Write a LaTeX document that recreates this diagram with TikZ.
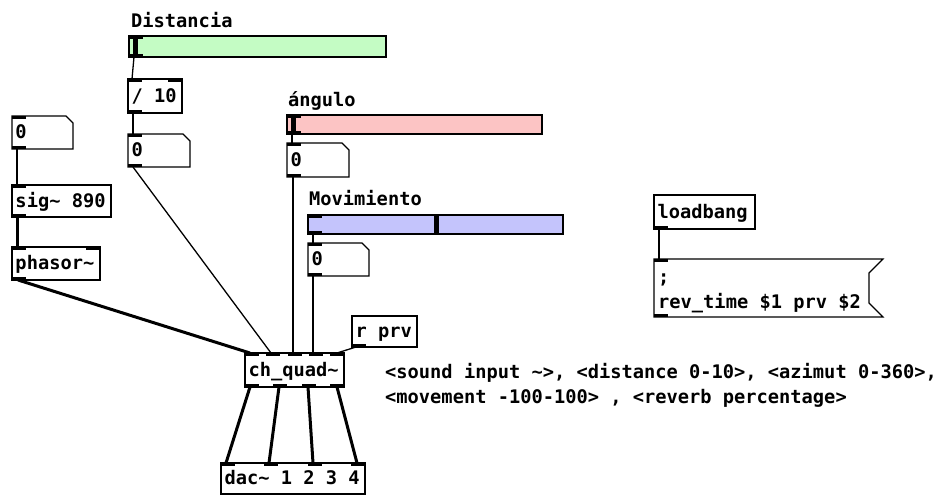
\documentclass[tikz,border=0pt]{standalone}
\usepackage{fontspec}
\newfontfamily\pdfont{DejaVu Sans Mono}
\definecolor{pdgreen}{HTML}{C4FCC4}
\definecolor{pdred}{HTML}{FCC4C4}
\definecolor{pdblue}{HTML}{C4C4FC}
\newcommand\inl[1]{\fill #1 rectangle ++(14,3);}
\newcommand\outl[1]{\fill #1 rectangle ++(14,-3);}
\newcommand\natsp{\spaceskip=0pt\xspaceskip=0pt\relax}
\begin{document}
\begin{tikzpicture}[x=1pt,y=-1pt,
  font=\pdfont\bfseries\fontsize{18.7}{25}\selectfont,
  boxline/.style={line width=1.1pt},
  obj/.style={draw, boxline, inner xsep=3.5pt, inner ysep=0pt, outer sep=0pt,
    anchor=north west, align=left, text height=15pt, text depth=3pt},
  frame/.style={inner sep=0pt, outer sep=0pt, anchor=north west},
  slider/.style={draw, boxline, inner sep=0pt, outer sep=0pt, anchor=north west},
  numtext/.style={frame, inner xsep=3.5pt, align=left, text height=15pt, text depth=3pt},
  lbl/.style={inner sep=0pt, anchor=base west},
  ctl/.style={line width=1.3pt},
  sig/.style={line width=3pt}]
\useasboundingbox (0,0) rectangle (952,496);

% ---- Distancia
\node[lbl] (lD) at (131,27) {Distancia};
\node[slider, fill=pdgreen, minimum width=257pt, minimum height=21pt] (sD) at (129,36) {};
\fill ([xshift=4pt]sD.north west) rectangle ++(5,21);
\inl{(sD.north west)} \outl{(sD.south west)}
\node[obj, text width=47pt, minimum height=34pt] (div) at (128,79) {\natsp / 10};
\inl{(div.north west)} \inl{([xshift=-14pt]div.north east)} \outl{(div.south west)}
\node[numtext, text width=55pt, minimum height=33pt] (nD) at (128,134) {0};
\draw[boxline] (nD.north west) -- ([xshift=-7pt]nD.north east) -- ([yshift=-7pt]nD.north east) -- (nD.south east) -- (nD.south west) -- cycle;
\inl{(nD.north west)} \outl{(nD.south west)}

% ---- left chain
\node[numtext, text width=54pt, minimum height=33pt] (n0) at (12,116) {0};
\draw[boxline] (n0.north west) -- ([xshift=-7pt]n0.north east) -- ([yshift=-7pt]n0.north east) -- (n0.south east) -- (n0.south west) -- cycle;
\inl{(n0.north west)} \outl{(n0.south west)}
\node[obj, text width=92pt, minimum height=32pt] (sg) at (12,185) {\natsp sig\textasciitilde{} 890};
\inl{(sg.north west)} \outl{(sg.south west)}
\node[obj, text width=81pt, minimum height=33pt] (ph) at (12,247) {phasor\textasciitilde};
\inl{(ph.north west)} \inl{([xshift=-14pt]ph.north east)} \outl{(ph.south west)}

% ---- angulo
\node[lbl] (lA) at (288,106) {ángulo};
\node[slider, fill=pdred, minimum width=255pt, minimum height=19pt] (sA) at (287,115) {};
\fill ([xshift=4pt]sA.north west) rectangle ++(5,19);
\inl{(sA.north west)} \outl{(sA.south west)}
\node[numtext, text width=55pt, minimum height=34pt] (nA) at (287,143) {0};
\draw[boxline] (nA.north west) -- ([xshift=-7pt]nA.north east) -- ([yshift=-7pt]nA.north east) -- (nA.south east) -- (nA.south west) -- cycle;
\inl{(nA.north west)} \outl{(nA.south west)}

% ---- Movimiento
\node[lbl] (lM) at (309,205) {Movimiento};
\node[slider, fill=pdblue, minimum width=255pt, minimum height=19pt] (sM) at (308,215) {};
\fill ([xshift=126pt]sM.north west) rectangle ++(5,19);
\inl{(sM.north west)} \outl{(sM.south west)}
\node[numtext, text width=54pt, minimum height=33pt] (nM) at (308,243) {0};
\draw[boxline] (nM.north west) -- ([xshift=-7pt]nM.north east) -- ([yshift=-7pt]nM.north east) -- (nM.south east) -- (nM.south west) -- cycle;
\inl{(nM.north west)} \outl{(nM.south west)}

% ---- r prv
\node[obj, text width=58pt, minimum height=31pt] (rp) at (352,316) {\natsp r prv};
\outl{(rp.south west)}

% ---- ch_quad~
\node[obj, text width=92pt, minimum height=34pt] (cq) at (245,353) {ch\_quad\textasciitilde};
\inl{(cq.north west)}
\inl{([xshift=21.25pt]cq.north west)}
\inl{([xshift=42.5pt]cq.north west)}
\inl{([xshift=63.75pt]cq.north west)}
\inl{([xshift=85pt]cq.north west)}
\outl{(cq.south west)}
\outl{([xshift=28.33pt]cq.south west)}
\outl{([xshift=56.67pt]cq.south west)}
\outl{([xshift=85pt]cq.south west)}

% ---- dac~
\node[obj, text width=137pt, minimum height=31pt] (dac) at (221,463) {\natsp dac\textasciitilde{} 1 2 3 4};
\inl{(dac.north west)}
\inl{([xshift=43.33pt]dac.north west)}
\inl{([xshift=86.67pt]dac.north west)}
\inl{([xshift=130pt]dac.north west)}

% ---- loadbang / message
\node[obj, text width=94pt, minimum height=34pt] (lb) at (654,195) {loadbang};
\outl{(lb.south west)}
\node[frame, minimum width=229pt, minimum height=58pt] (msg) at (654,259) {};
\draw[boxline] (msg.north west) -- (msg.north east) -- ([xshift=-14pt,yshift=-14pt]msg.north east) -- ([xshift=-14pt,yshift=14pt]msg.south east) -- (msg.south east) -- (msg.south west) -- cycle;
\inl{(msg.north west)} \outl{(msg.south west)}
\node[lbl] (m1) at (658,283) {;};
\node[lbl] (m2) at (658,308) {rev\_time \$1 prv \$2};

% ---- comment
\node[lbl] (c1) at (385,378) {<sound input \textasciitilde>, <distance 0-10>, <azimut 0-360>,};
\node[lbl] (c2) at (385,403) {<movement -100-100> , <reverb percentage>};

% ---- connections
\draw[ctl] ([xshift=5pt]sD.south west) -- ([xshift=4pt]div.north west);
\draw[ctl] ([xshift=5pt]div.south west) -- ([xshift=5pt]nD.north west);
\draw[ctl] ([xshift=5pt]nD.south west) -- ([xshift=26pt]cq.north west);
\draw[ctl] ([xshift=5pt]n0.south west) -- ([xshift=5pt]sg.north west);
\draw[sig] ([xshift=5pt]sg.south west) -- ([xshift=5pt]ph.north west);
\draw[sig] ([xshift=6pt]ph.south west) -- ([xshift=5pt]cq.north west);
\draw[ctl] ([xshift=5pt]sA.south west) -- ([xshift=5pt]nA.north west);
\draw[ctl] ([xshift=6pt]nA.south west) -- ([xshift=48pt]cq.north west);
\draw[ctl] ([xshift=5pt]sM.south west) -- ([xshift=5pt]nM.north west);
\draw[ctl] ([xshift=5pt]nM.south west) -- ([xshift=68pt]cq.north west);
\draw[ctl] ([xshift=4pt]rp.south west) -- ([xshift=92pt]cq.north west);
\draw[ctl] ([xshift=5pt]lb.south west) -- ([xshift=5pt]msg.north west);
\draw[sig] ([xshift=5pt]cq.south west) -- ([xshift=5pt]dac.north west);
\draw[sig] ([xshift=34pt]cq.south west) -- ([xshift=48pt]dac.north west);
\draw[sig] ([xshift=63pt]cq.south west) -- ([xshift=92pt]dac.north west);
\draw[sig] ([xshift=92pt]cq.south west) -- ([xshift=136pt]dac.north west);
\end{tikzpicture}
\end{document}
